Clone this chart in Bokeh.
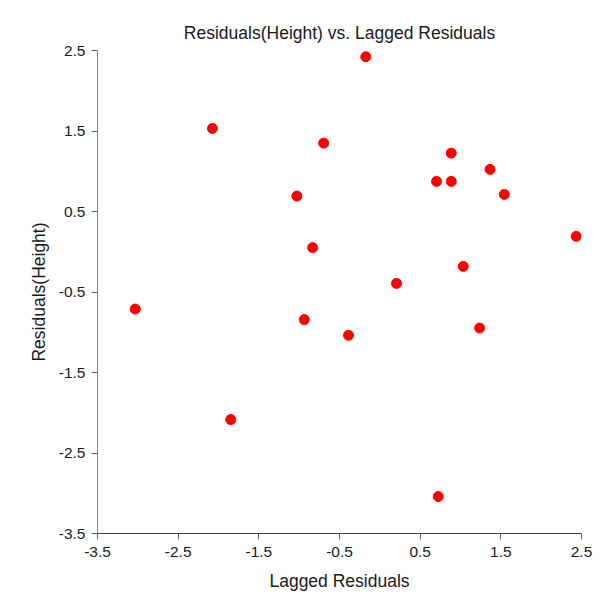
from bokeh.plotting import figure
from bokeh.models import FixedTicker, Range1d
from bokeh.embed import file_html
from bokeh.resources import INLINE

# Data
lagged_residuals = [-0.174, -2.075, -0.696, 0.885, 1.366, 0.703, 0.885, 1.543, -1.028, 2.434,
                    -0.833, 1.034, 0.206, -3.032, -0.937, 1.237, -0.388, -1.848, 0.724]
residuals_height = [2.422, 1.532, 1.349, 1.225, 1.023, 0.874, 0.874, 0.712, 0.691, 0.191,
                    0.051, -0.182, -0.393, -0.712, -0.843, -0.948, -1.038, -2.085, -3.041]
tick_values = [-3.5, -2.5, -1.5, -0.5, 0.5, 1.5, 2.5]
tick_labels = ["-3.5", "-2.5", "-1.5", "-0.5", "0.5", "1.5", "2.5"]

FONT = "Liberation Sans"
TXT = "#1a1a1a"

p = figure(width=593, height=600, output_backend="svg", toolbar_location=None,
           x_range=Range1d(-3.5, 2.5), y_range=Range1d(-3.5, 2.5),
           title="Residuals(Height) vs. Lagged Residuals",
           min_border_left=97, min_border_right=12, min_border_top=50, min_border_bottom=67)

p.title.align = "center"
p.title.text_font = FONT
p.title.text_font_size = "17.5px"
p.title.text_font_style = "normal"
p.title.text_color = TXT
p.title.standoff = 15

p.outline_line_color = None
p.xgrid.visible = False
p.ygrid.visible = False
p.background_fill_color = "white"
p.border_fill_color = "white"

for ax in (p.xaxis[0], p.yaxis[0]):
    ax.ticker = FixedTicker(ticks=tick_values)
    ax.major_label_overrides = {v: s for v, s in zip(tick_values, tick_labels)}
    ax.minor_tick_line_color = None
    ax.major_tick_in = 0
    ax.major_tick_out = 6
    ax.major_tick_line_color = "#606060"
    ax.major_label_text_font = FONT
    ax.major_label_text_font_size = "15.5px"
    ax.major_label_text_color = TXT
    ax.axis_label_text_font = FONT
    ax.axis_label_text_font_size = "17.5px"
    ax.axis_label_text_font_style = "normal"
    ax.axis_label_text_color = TXT

p.xaxis.axis_label = "Lagged Residuals"
p.yaxis.axis_label = "Residuals(Height)"
p.xaxis.axis_line_color = "#404040"
p.yaxis.axis_line_color = "#808080"
p.xaxis.major_label_standoff = 7
p.yaxis.major_label_standoff = 6
p.xaxis.axis_label_standoff = 11
p.yaxis.axis_label_standoff = 7

p.scatter(x=lagged_residuals, y=residuals_height, size=10, marker="circle",
          fill_color="#ff0000", line_color="#ff0000")

open("out.html", "w").write(file_html(p, INLINE))
